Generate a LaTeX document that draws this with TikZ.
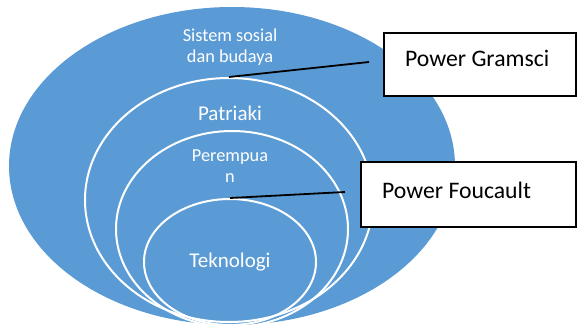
\documentclass[tikz,border=0pt]{standalone}
\usepackage{fontspec}
\setmainfont{Carlito}
\usetikzlibrary{shapes.geometric}
\definecolor{ablue}{HTML}{5B9BD5}
\tikzset{
  ring/.style={ellipse, draw=white, line width=2pt, inner sep=0pt},
  lbl/.style={text=white, align=center, inner sep=0pt},
  smalltxt/.style={font=\fontsize{18.3}{20.5}\selectfont},
  midtxt/.style={font=\fontsize{21}{24}\selectfont},
  powerbox/.style={draw=black, line width=2pt, fill=white},
  powertxt/.style={text=black, inner sep=0pt, anchor=west, font=\fontsize{23.7}{28}\selectfont},
  link/.style={draw=black, line width=1.8pt}
}
\begin{document}
\begin{tikzpicture}[x=1pt,y=-1pt]
\useasboundingbox (0,0) rectangle (577,326);
% outer ellipse
\node[ellipse, fill=ablue, inner sep=0pt, minimum width=446pt, minimum height=318pt] (outer) at (232,166) {};
% inner rings
\node[ring, minimum width=288pt, minimum height=244pt] (e2) at (229,200) {};
\node[ring, minimum width=232pt, minimum height=196pt] (e3) at (232,229) {};
\node[ring, minimum width=172pt, minimum height=126pt] (e4) at (230,262) {};
% labels
\node[lbl, smalltxt] (t1) at (230,47) {Sistem sosial\\dan budaya};
\node[lbl, midtxt] (t2) at (230,113) {Patriaki};
\node[lbl, smalltxt] (t3) at (230,166) {Perempua\\n};
\node[lbl, midtxt] (t4) at (230,262) {Teknologi};
% boxes
\path[powerbox] (384,33) rectangle (576,96);
\node[powertxt] (pg) at (405,58) {Power Gramsci};
\path[powerbox] (361,162) rectangle (576,227);
\node[powertxt] (pf) at (382,190) {Power Foucault};
% connectors
\coordinate (g1) at (369,62);
\coordinate (f1) at (345,192);
\draw[link] (e2.north) -- (g1);
\draw[link] (e4.north) -- (f1);
\end{tikzpicture}
\end{document}
